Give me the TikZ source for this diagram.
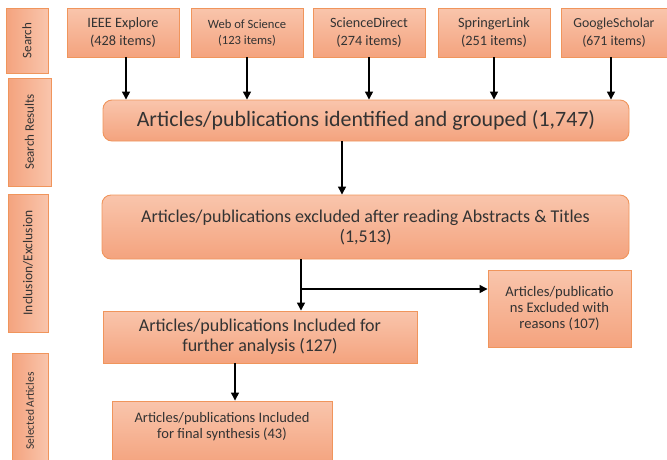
\documentclass[tikz,border=0pt]{standalone}
\usepackage{fontspec}
\setmainfont{Carlito}
\usetikzlibrary{arrows.meta}
\definecolor{boxline}{HTML}{F0955C}
\definecolor{boxtop}{HTML}{F9C5AC}
\definecolor{boxbot}{HTML}{F4A37E}
\definecolor{txt}{HTML}{333333}
\tikzset{
  box/.style={draw=boxline, line width=0.9pt, top color=boxtop, bottom color=boxbot,
    text=txt, inner sep=1pt, align=center},
  rbox/.style={box, rounded corners=9pt},
  side/.style={draw=boxline, line width=0.9pt, left color=boxbot, right color=boxtop,
    text=txt, inner sep=0pt, rotate=90},
  arr/.style={line width=1.3pt, -{Triangle[length=8pt,width=8pt]}}
}
\begin{document}
\begin{tikzpicture}[x=1pt,y=-1pt]
\useasboundingbox (0,0) rectangle (667,459);
% stage labels
\node[side, minimum width=65pt, minimum height=42pt, font=\fontsize{13}{15}\selectfont] (s1) at (27,40.5) {Search};
\node[side, minimum width=108pt, minimum height=43pt, font=\fontsize{13}{15}\selectfont] (s2) at (29.5,132) {Search Results};
\node[side, minimum width=138pt, minimum height=40pt, font=\fontsize{13.5}{15}\selectfont] (s3) at (28,263) {Inclusion/Exclusion};
\node[side, minimum width=116pt, minimum height=36pt, font=\fontsize{11.5}{14}\selectfont] (s4) at (30,411) {Selected Articles};
% databases
\node[box, minimum width=112pt, minimum height=49pt, font=\fontsize{14.3}{18}\selectfont] (ieee) at (123,32.5) {IEEE Explore\\(428 items)};
\node[box, minimum width=112pt, minimum height=49pt, font=\fontsize{12.6}{16}\selectfont] (wos) at (247,32.5) {Web of Science\\(123 items)};
\node[box, minimum width=112pt, minimum height=49pt, font=\fontsize{14.2}{18}\selectfont] (sd) at (369,32.5) {ScienceDirect\\(274 items)};
\node[box, minimum width=112pt, minimum height=49pt, font=\fontsize{14.3}{18}\selectfont] (spr) at (494,32.5) {SpringerLink\\(251 items)};
\node[box, minimum width=106pt, minimum height=49pt, font=\fontsize{13.8}{18}\selectfont] (gs) at (614,32.5) {GoogleScholar\\(671 items)};
% flow
\node[rbox, minimum width=526pt, minimum height=41pt, font=\fontsize{21.9}{26}\selectfont] (ident) at (366,120.5) {Articles/publications identified and grouped (1,747)};
\node[rbox, minimum width=527pt, minimum height=64pt, font=\fontsize{18}{20}\selectfont] (abs) at (365.5,227) {Articles/publications excluded after reading Abstracts \& Titles\\(1,513)};
\node[box, minimum width=143pt, minimum height=77pt, font=\fontsize{14.6}{16}\selectfont] (excl) at (559.5,308.5) {Articles/publicatio\\ns Excluded with\\reasons (107)};
\node[box, minimum width=314pt, minimum height=52pt, font=\fontsize{18}{20}\selectfont] (incl) at (260,337) {Articles/publications Included for\\further analysis (127)};
\node[box, minimum width=220pt, minimum height=64pt, font=\fontsize{14.5}{16}\selectfont, text depth=15pt] (fin) at (222,433) {Articles/publications Included\\for final synthesis (43)};
\coordinate (split) at (301,289);
\draw[arr] (ieee.south -| 126,0) -- (ident.north -| 126,0);
\draw[arr] (wos) -- (wos |- ident.north);
\draw[arr] (sd) -- (sd |- ident.north);
\draw[arr] (spr) -- (spr |- ident.north);
\draw[arr] (gs.south -| 611,0) -- (ident.north -| 611,0);
\draw[arr] (ident.south -| 342,0) -- (abs.north -| 342,0);
\draw[arr] (abs.south -| split) -- (incl.north -| split);
\draw[arr] (split) -- (excl.west |- split);
\draw[arr] (incl.south -| 235,0) -- (fin.north -| 235,0);
\end{tikzpicture}
\end{document}
